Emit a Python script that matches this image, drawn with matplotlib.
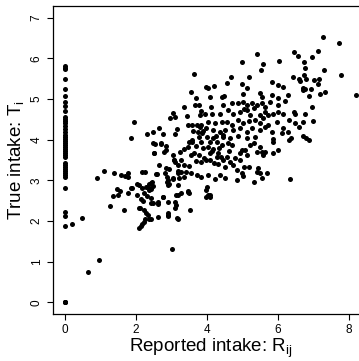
import matplotlib
matplotlib.use("Agg")
import matplotlib.pyplot as plt

plt.rcParams['font.family'] = ['Liberation Sans', 'DejaVu Sans']
plt.rcParams['mathtext.fontset'] = 'custom'
plt.rcParams['mathtext.rm'] = 'Liberation Sans'
plt.rcParams['mathtext.it'] = 'Liberation Sans'

# True intake for subjects reporting zero intake
zero_true = [5.81, 5.77, 5.73, 5.48, 5.24, 5.07, 4.93, 4.82, 4.70, 4.56, 4.51, 4.46,
             4.41, 4.33, 4.26, 4.19, 4.11, 4.06, 4.01, 3.96, 3.91, 3.86, 3.81, 3.76,
             3.71, 3.66, 3.62, 3.58, 3.43, 3.38, 3.33, 3.28, 3.22, 3.17, 3.12, 3.07,
             2.82, 2.23, 2.12, 1.87, 0.0, 0.0, 0.0]

# Reported (x) and true (y) intake for the remaining observations
reported = [0.96, 0.64, 0.47, 0.19, 0.91, 1.10, 1.37, 1.57, 1.69, 1.77, 1.78, 2.16, 2.25,
            1.27, 1.36, 1.45, 1.50, 1.55, 1.66, 1.78, 1.85, 2.02, 2.09, 2.16, 2.11, 2.09,
            2.14, 2.18, 2.22, 2.25, 2.20, 2.23, 2.30, 2.28, 2.36, 2.41, 2.42, 2.48, 2.37,
            2.28, 2.34, 2.46, 2.62, 2.63, 2.76, 2.86, 2.91, 2.89, 2.89, 2.91, 3.09, 3.09,
            3.14, 3.17, 3.19, 3.00,
            2.49, 2.70, 2.84, 2.51, 2.79, 3.03, 3.24, 3.35, 3.50, 3.59, 3.84, 3.54, 3.64,
            3.78, 3.92, 3.07, 3.26, 3.17, 3.36, 3.50, 3.68, 3.83, 3.97, 2.65, 2.84, 2.93,
            2.59, 3.17, 3.26, 3.40, 3.54, 3.73, 3.83, 2.89, 3.03, 3.22, 3.36, 2.93, 2.42,
            2.47, 2.33, 2.37, 2.04, 1.90, 2.14, 2.42, 2.61, 2.75, 3.12, 3.26, 3.12, 3.45,
            3.50, 2.09, 2.23, 2.42, 2.89, 3.17, 3.52, 3.97, 3.97,
            2.53, 2.71, 2.83, 2.50, 3.06, 3.11, 2.57, 2.82, 3.18, 2.86, 3.05,
            3.62, 3.55, 3.96, 3.70, 3.36, 3.65, 3.77, 3.84, 3.94, 3.80, 3.03, 3.10, 2.95,
            3.43, 3.73, 3.83, 3.45, 3.59, 3.80, 3.97, 1.94, 2.65, 2.48, 2.30, 2.75, 3.14,
            3.10, 1.86, 3.57, 3.87, 3.77,
            4.09, 4.27, 4.41, 4.04, 4.18, 4.32, 4.27, 4.09, 4.09, 4.46, 4.56, 4.70, 4.65,
            4.51, 4.74, 4.93, 4.98, 5.07, 5.12, 4.93, 5.21, 5.31, 5.40, 5.54, 5.63, 5.49,
            5.59, 5.87, 5.87, 5.99, 4.04, 4.23, 4.37, 4.51, 4.84, 4.98, 5.01, 5.04, 5.19,
            5.31, 5.43, 5.40, 5.49, 5.54, 5.70, 4.00, 4.04, 4.09, 6.34, 6.32, 6.86, 3.47,
            4.08,
            5.42, 4.99, 6.02, 5.59, 5.52, 5.19, 4.68, 4.56, 4.98, 5.12, 5.82, 6.01, 4.04,
            4.20, 4.09, 4.41, 4.48, 5.01, 5.48, 5.54, 5.82, 5.99, 4.11, 4.46, 4.70, 4.88,
            5.02, 5.12, 5.26, 5.40, 5.54, 5.63, 5.77, 6.01, 4.13, 4.37, 4.60, 4.74, 4.93,
            5.12, 5.31, 5.21, 5.49, 5.63, 5.73, 5.87, 6.01, 4.04, 4.23, 4.41, 4.56, 4.70,
            4.88, 5.02, 5.17, 5.35, 5.49, 5.59, 5.73, 5.96, 4.18, 4.37, 4.51, 4.74, 4.93,
            5.12, 5.26, 5.49, 5.63, 5.82, 6.10, 3.99, 4.18, 4.46, 4.65, 4.88, 5.12, 5.35,
            5.87,
            7.28, 7.71, 7.14, 6.44, 6.55, 6.96, 6.74, 7.29, 6.75, 6.72, 6.41, 6.58, 6.62,
            6.79, 7.00, 7.16, 7.77, 7.14, 6.13, 6.71, 6.77, 6.93, 7.19, 7.31, 6.86, 6.69,
            6.28, 6.21, 8.21, 6.96, 6.13, 6.44, 6.49, 6.77, 6.32, 6.49, 6.99, 6.69, 6.60,
            6.13, 6.27, 6.69, 6.79, 6.37,
            3.90, 4.15, 4.35, 3.70, 4.60, 4.20, 4.80, 3.45, 4.38, 4.62, 4.25, 3.88, 4.45,
            4.30, 4.85, 5.05, 3.60, 3.75]
true = [1.04, 0.75, 2.08, 1.93, 3.05, 3.23, 3.18, 3.14, 3.10, 3.18, 3.07, 3.21, 3.21,
        2.37, 2.62, 2.78, 2.64, 2.74, 2.28, 2.69, 2.80, 2.65, 2.88, 2.80, 2.31, 1.83,
        1.87, 1.92, 1.98, 2.04, 2.50, 2.69, 2.61, 2.83, 2.92, 2.78, 2.45, 2.45, 2.06,
        2.20, 2.14, 2.96, 2.42, 2.09, 2.59, 2.96, 2.88, 2.47, 2.19, 2.12, 2.33, 2.47,
        2.08, 2.64, 2.88, 1.31,
        3.91, 3.91, 3.84, 3.66, 3.70, 3.62, 3.70, 3.78, 3.95, 3.95, 3.95, 3.62, 3.66,
        3.62, 3.54, 3.50, 3.50, 3.37, 3.37, 3.35, 3.48, 3.46, 3.50, 3.37, 3.29, 3.27,
        3.15, 3.23, 3.21, 3.21, 3.17, 3.13, 3.09, 3.00, 3.02, 3.05, 3.09, 2.92, 2.94,
        2.86, 2.83, 2.76, 2.92, 2.80, 2.53, 2.56, 2.47, 2.59, 2.64, 2.68, 2.39, 2.74,
        2.68, 2.31, 2.27, 2.06, 2.14, 2.04, 2.27, 2.76, 2.59,
        3.89, 3.88, 3.74, 3.68, 3.51, 3.44, 3.15, 3.17, 3.19, 3.09, 3.05,
        5.61, 5.17, 5.29, 5.01, 4.80, 4.85, 4.86, 4.70, 4.63, 4.60, 4.66, 4.56, 4.52,
        4.59, 4.37, 4.36, 4.36, 4.36, 4.32, 4.28, 4.44, 4.29, 4.18, 4.13, 4.13, 4.25,
        4.13, 4.04, 4.00, 4.15, 4.07,
        3.95, 3.95, 3.86, 3.82, 3.78, 3.66, 3.58, 3.66, 3.50, 3.50, 3.58, 3.86, 3.46,
        3.33, 3.37, 3.66, 3.74, 3.74, 3.62, 3.50, 3.86, 3.91, 3.70, 3.70, 3.70, 3.82,
        3.62, 3.95, 3.66, 3.74, 3.13, 3.02, 3.13, 3.05, 3.00, 3.17, 3.10, 3.33, 3.32,
        2.96, 3.29, 3.21, 3.17, 3.05, 3.17, 2.84, 2.64, 2.59, 3.02, 3.99, 3.99, 2.72,
        2.64,
        6.10, 5.91, 5.94, 5.86, 5.72, 5.54, 5.53, 5.40, 5.36, 5.26, 5.42, 5.34, 5.27,
        5.31, 5.05, 5.05, 5.07, 5.12, 5.15, 5.05, 5.09, 5.01, 4.81, 4.85, 4.89, 4.89,
        4.93, 4.85, 4.89, 4.85, 4.89, 4.81, 4.93, 4.86, 4.64, 4.63, 4.72, 4.64, 4.68,
        4.72, 4.77, 4.60, 4.60, 4.68, 4.60, 4.64, 4.68, 4.44, 4.40, 4.42, 4.44, 4.36,
        4.48, 4.40, 4.45, 4.48, 4.40, 4.52, 4.36, 4.44, 4.23, 4.19, 4.23, 4.23, 4.28,
        4.19, 4.28, 4.23, 4.32, 4.19, 4.15, 4.07, 4.04, 4.07, 4.03, 4.09, 4.04, 4.07,
        4.01,
        6.51, 6.38, 6.18, 6.16, 6.05, 6.04, 5.91, 5.71, 5.75, 5.59, 5.53, 5.50, 5.44,
        5.49, 5.46, 5.50, 5.59, 5.36, 5.30, 5.27, 5.24, 5.24, 5.13, 5.17, 5.08, 5.21,
        5.09, 4.95, 5.09, 4.81, 4.62, 4.68, 4.62, 4.62, 4.48, 4.40, 4.45, 4.42, 4.32,
        4.28, 4.18, 4.09, 4.04, 4.03,
        3.80, 3.72, 3.80, 3.85, 3.92, 3.42, 3.55, 3.82, 3.58, 3.72, 4.10, 4.20, 4.12,
        3.40, 3.25, 4.75, 4.22, 4.18]

x_ticks = [0, 2, 4, 6, 8]
y_ticks = [0, 1, 2, 3, 4, 5, 6, 7]

fig = plt.figure(figsize=(3.59, 3.61), dpi=100)
ax = fig.add_axes([0.1476, 0.131, 0.877, 0.852])

ax.scatter([0.0] * len(zero_true), zero_true, s=13, color='black', linewidths=0)
ax.scatter(reported, true, s=13, color='black', linewidths=0)

ax.set_xlim(-0.34, 8.53)
ax.set_ylim(-0.28, 7.28)
ax.set_xticks(x_ticks)
ax.set_yticks(y_ticks)
for sp in ax.spines.values():
    sp.set_linewidth(0.9)
    sp.set_color('black')
ax.tick_params(axis='both', direction='out', length=4, width=0.8, labelsize=8.5, pad=3.5)
plt.setp(ax.get_yticklabels(), rotation=90, va='center')

ax.set_xlabel(r'Reported intake: $\mathregular{R_{ij}}$', fontsize=13.5, labelpad=0.5)
ax.set_ylabel(r'True intake: $\mathregular{T_{i}}$', fontsize=13.5, labelpad=3)

fig.savefig('out.png', dpi=100)
